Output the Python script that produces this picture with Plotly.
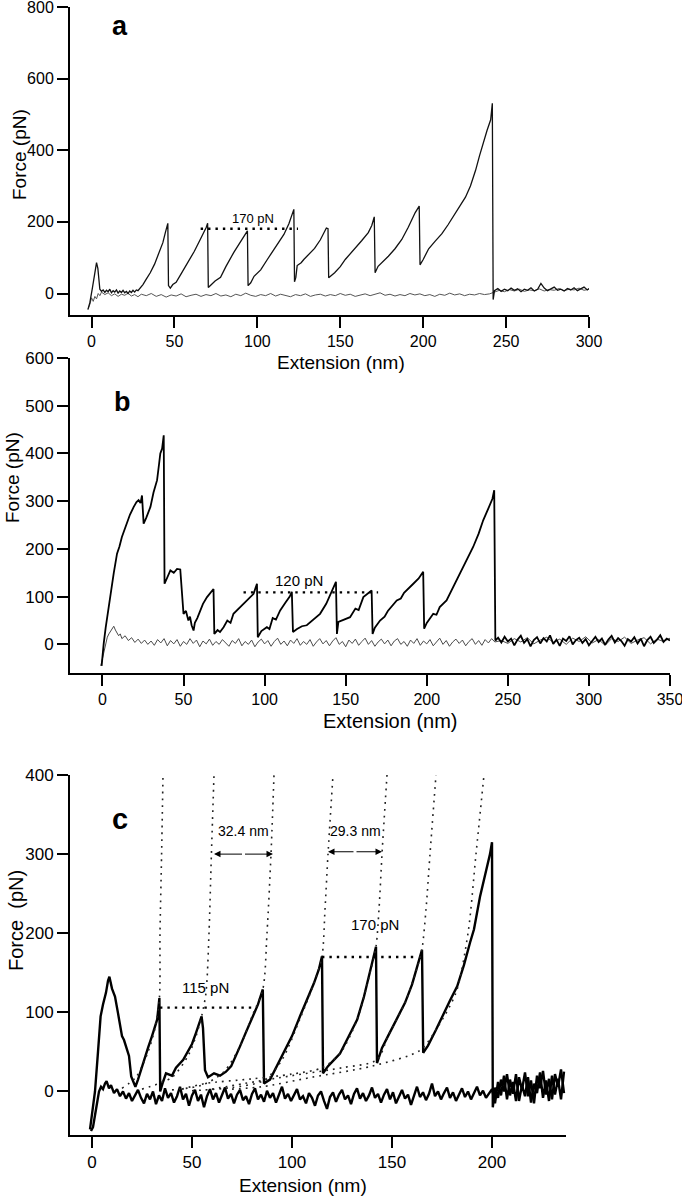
import plotly.graph_objects as go

FONT = "Liberation Sans, Arial, Helvetica, sans-serif"

# ---------------- Panel a ----------------
a_retract = [(-2.2,-45),(-1,-25),(0.5,15),(1.5,45),(2.3,70),(3,86),(3.8,70),(4.5,35),(5,12),(6,6),(7,10),(8,3),(9,9),(10,5),(11,12),(12,2),(13,8),(14,4),(15,10),(16,1),(17,7),(18,3),(19,9),(20,2),(21,6),(22,0),(23,7),(24,3),(25,9),(26,4),(27,10),(28,8),(30,18),(31,25),(33,40),(35.4,58),(38,82),(40,104),(41,115),(43,142),(44.5,170),(45.3,185),(46,196),(46.4,22),(47.5,15),(49,25),(51,31),(54,55),(57,78),(59.6,96),(62,118),(65.7,152),(68,172),(69.2,185),(70,196),(70.4,17),(72,24),(74.5,35),(77.8,45),(81,75),(85.8,115),(89,140),(92,160),(93.3,170),(94,175),(94.4,22),(96,30),(98,48),(102,66),(106,95),(109,115),(112,135),(116,165),(119,195),(121,220),(122,235),(122.4,33),(123.2,45),(124,78),(126.4,86),(128,95),(130.5,107),(134.5,126),(138,150),(140.5,172),(141.6,183),(142.6,181),(143,44),(146.6,58),(150,75),(153,95),(156.7,114),(160,130),(163,148),(166.9,170),(169,190),(170.5,214),(171,58),(172.8,76),(176,90),(179,104),(183,125),(187.1,151),(191,185),(195.2,226),(197.6,244),(198.1,80),(200,95),(203.3,125),(207,145),(211.3,167),(215,192),(219.4,223),(222.5,245),(225.5,269),(228.5,300),(231.6,344),(234,385),(236.6,429),(238.5,455),(240.7,485),(241.7,531),(242.2,-17),(243,8),(245,14),(247,6),(249,12),(251,8),(253,15),(255,9),(257,13),(259,5),(261,12),(263,9),(265,16),(267,7),(269,12),(271,28),(273,15),(275,8),(277,13),(279,18),(281,9),(283,12),(285,7),(287,14),(289,10),(291,16),(293,8),(295,13),(297,18),(299,10),(300,14)]
a_approach = [(-2,-42),(-1,-30),(0,-12),(1,-22),(2,-8),(3,-15),(4,0),(5,-6),(6,4),(8,-3),(10,2),(12,-6),(14,-1),(16,-8),(18,-2),(20,-5),(22,1),(24,-7),(26,-3),(28,-9),(30,-2),(33,-6),(36,0),(39,-8),(42,-3),(45,-10),(48,-4),(51,-7),(54,-1),(57,-9),(60,-5),(63,-2),(66,-8),(69,-3),(72,-6),(75,0),(78,-7),(81,-4),(84,-9),(87,-2),(90,-6),(93,1),(96,-5),(99,-8),(102,-3),(105,-6),(108,0),(111,-7),(114,-2),(117,-5),(120,-9),(123,-3),(126,-6),(129,-1),(132,-8),(135,-4),(138,-2),(141,-7),(144,-3),(147,-6),(150,0),(153,-5),(156,-2),(159,-8),(162,-4),(165,-1),(168,-6),(171,-3),(174,2),(177,-5),(180,-2),(183,-7),(186,-3),(189,-6),(192,0),(195,-4),(198,-1),(201,-6),(204,-3),(207,-8),(210,-2),(213,-5),(216,1),(219,-4),(222,-1),(225,-6),(228,-2),(231,-4),(234,0),(237,-3),(240,-1),(243,4),(246,9),(249,5),(252,11),(255,7),(258,12),(261,6),(264,10),(267,8),(270,13),(273,7),(276,11),(279,9),(282,14),(285,8),(288,12),(291,10),(294,15),(297,9),(300,12)]
a_level_x = [65.8, 124.5]
a_level_f = [181, 181]
a_level_text = "170 pN"

# ---------------- Panel b ----------------
b_retract = [(-0.5,-45),(0.3,-10),(0.8,2),(2,35),(3,60),(4.9,99),(7,150),(9,190),(10.5,205),(12,225),(13.5,240),(15.2,253),(17,272),(19.3,288),(21,298),(22.3,302),(23.5,296),(24.4,312),(25,280),(25.4,253),(27,265),(29.6,288),(31.5,318),(33.7,344),(35,380),(35.7,400),(36.8,410),(37.8,438),(38.3,127),(40,140),(41.9,155),(44,150),(46,158),(48,157),(49,110),(50,64),(51.5,70),(53,50),(54,58),(55,40),(56.2,29),(57,45),(58.5,55),(60.3,71),(62,85),(64.5,99),(66.5,108),(68.5,116),(69,22),(71,30),(72.5,26),(74.7,36),(77,50),(79,45),(80.8,64),(84,75),(87,85),(90,95),(93.2,106),(95.3,127),(95.8,15),(98,28),(101.4,36),(103,32),(105,55),(107,52),(109.6,71),(113,88),(115.5,100),(116.8,110),(117.5,26),(120,32),(123,38),(126,40),(130,52),(134.2,64),(138,85),(141,108),(142.4,120),(144,131),(144.6,22),(145.5,47),(149,52),(152.7,57),(156,75),(158,72),(160.9,99),(164,108),(166,113),(166.6,22),(168,35),(171.2,50),(174,58),(176,70),(181.5,92),(184,96),(186,108),(191.7,127),(195,138),(197.8,152),(198.4,33),(200,45),(204,64),(206,62),(208,78),(212.2,92),(216,118),(220.4,148),(224,172),(228.6,204),(232,232),(234.8,260),(238,285),(240.5,305),(241.6,323),(242.3,8),(244,14),(246,4),(248,16),(250,6),(252,12),(254,-2),(256,10),(258,18),(260,3),(262,11),(264,-4),(266,9),(268,15),(270,2),(272,13),(274,6),(276,19),(278,1),(280,10),(282,-3),(284,12),(286,7),(288,17),(290,0),(292,9),(294,14),(296,3),(298,11),(300,-2),(302,8),(304,16),(306,5),(308,12),(310,-1),(312,10),(314,18),(316,4),(318,13),(320,7),(322,-3),(324,11),(326,6),(328,15),(330,2),(332,12),(334,-4),(336,9),(338,16),(340,3),(342,10),(344,19),(346,5),(348,12),(350,8)]
b_approach = [(-1,-45),(0,-30),(1,-8),(2,5),(3,15),(4,22),(5,28),(6,33),(7,38),(8,30),(9,25),(10,18),(11,22),(12,12),(14,18),(16,8),(18,14),(20,4),(22,11),(24,2),(26,9),(28,0),(30,7),(32,-2),(34,10),(36,3),(38,12),(40,-3),(42,8),(44,1),(46,10),(48,-4),(50,6),(52,0),(54,12),(56,2),(58,9),(60,-5),(62,7),(64,1),(66,11),(68,-2),(70,6),(72,0),(74,10),(76,3),(78,-4),(80,8),(82,2),(84,12),(86,-3),(88,6),(90,0),(92,9),(94,-5),(96,5),(98,11),(100,1),(102,8),(104,-4),(106,6),(108,13),(110,0),(112,7),(114,-3),(116,9),(118,2),(120,12),(122,-2),(124,6),(126,0),(128,10),(130,-4),(132,5),(134,12),(136,1),(138,8),(140,-3),(142,7),(144,14),(146,0),(148,6),(150,-5),(152,9),(154,2),(156,11),(158,-2),(160,6),(162,13),(164,0),(166,8),(168,-4),(170,5),(172,11),(174,1),(176,9),(178,-3),(180,7),(182,12),(184,0),(186,6),(188,-4),(190,9),(192,2),(194,12),(196,-2),(198,7),(200,1),(202,10),(204,-3),(206,6),(208,13),(210,0),(212,8),(214,-4),(216,5),(218,11),(220,2),(222,9),(224,-3),(226,6),(228,12),(230,0),(232,8),(234,-2),(236,10),(238,3),(240,12),(242,5),(246,8),(250,2),(254,12),(258,5),(262,14),(266,1),(270,9),(274,15),(278,4),(282,11),(286,0),(290,13),(294,6),(298,16),(302,3),(306,10),(310,-2),(314,12),(318,6),(322,15),(326,2),(330,9),(334,14),(338,1),(342,11),(346,6),(350,13)]
b_level_x = [87, 170]
b_level_f = [109, 109]
b_level_text = "120 pN"

# ---------------- Panel c ----------------
c_retract = [(-1,-48),(0,-30),(1.5,0),(3,50),(4.3,95),(5.5,110),(7,125),(8,140),(8.7,145),(10,130),(11.5,120),(13,99),(15,70),(16,65),(17.4,53),(18.5,45),(19.6,19),(21.7,6),(23,15),(26,40),(28,55),(30,70),(32.6,91),(33.7,118),(34.1,0),(35.5,12),(37,23),(40,20),(42,30),(45.6,40),(48,52),(50,60),(52,74),(53.5,85),(54.8,95),(55.5,80),(56.5,27),(58,18),(61,23),(64,20),(67,25),(69.6,32),(72,45),(74,57),(77,75),(80.4,95),(83,110),(85.4,129),(86,10),(89,15),(92,30),(95.6,48),(100,70),(104,95),(108,118),(111,137),(113.5,155),(115,171),(115.5,23),(118,32),(121,40),(124,48),(128,68),(132.6,91),(136,120),(139,150),(141,170),(142,183),(142.5,36),(145,55),(148,70),(152,90),(156.5,112),(160,135),(163,162),(165,179),(165.6,49),(168,58),(172,78),(176,100),(179,115),(182.6,133),(186,160),(189,188),(191,205),(194,246),(197.3,280),(199,300),(200,315),(200.4,-20),(201.5,5),(203,-8),(204.5,15),(206,0),(207.5,22),(209,-5),(210.5,12),(212,-12),(213.5,18),(215,2),(216.5,24),(218,-6),(219.5,14),(221,-15),(222.5,20),(224,4),(225.5,26),(227,-4),(228.5,16),(230,-10),(231.5,22),(233,6),(234.5,28),(236,-2)]
c_approach = [(-0.5,-50),(0.5,-45),(1.5,-30),(2.5,-12),(3.5,0),(4.5,6),(5.5,3),(6.5,10),(7.3,13),(8.5,4),(9.5,8),(11,-2),(12.5,3),(14,-6),(15.5,0),(17,-9),(18.5,-2),(20,-12),(21.5,-4),(23,2),(24.5,-8),(26,-15),(27.5,-3),(29,-10),(30.5,0),(32,-16),(33.5,-5),(35,-12),(36.5,4),(38,-8),(39.5,-2),(41,-14),(42.5,-6),(44,6),(45.5,-10),(47,-3),(48.5,-18),(50,-5),(51.5,2),(53,-12),(54.5,-4),(56,-20),(57.5,-6),(59,3),(60.5,-10),(62,-2),(63.5,-14),(65,-5),(66.5,5),(68,-9),(69.5,-3),(71,-15),(72.5,-4),(74,2),(75.5,-11),(77,-6),(78.5,-16),(80,-3),(81.5,4),(83,-10),(84.5,-4),(86,-13),(87.5,1),(89,-8),(90.5,-2),(92,-14),(93.5,-5),(95,6),(96.5,-9),(98,-3),(99.5,-12),(101,-4),(102.5,3),(104,-10),(105.5,-6),(107,-15),(108.5,-2),(110,-8),(111.5,-18),(113,-5),(114.5,0),(116,-12),(117.5,-22),(119,-7),(120.5,-1),(122,-13),(123.5,-4),(125,2),(126.5,-10),(128,-5),(129.5,-16),(131,-3),(132.5,4),(134,-9),(135.5,-2),(137,-12),(138.5,-5),(140,5),(141.5,-8),(143,-3),(144.5,-14),(146,-4),(147.5,3),(149,-10),(150.5,-1),(152,-15),(153.5,-6),(155,2),(156.5,-9),(158,-4),(159.5,-17),(161,-5),(162.5,6),(164,-7),(165.5,-1),(167,-11),(168.5,-3),(170,10),(171.5,-6),(173,0),(174.5,-10),(176,-2),(177.5,5),(179,-8),(180.5,-1),(182,-12),(183.5,-3),(185,4),(186.5,-7),(188,0),(189.5,-10),(191,-2),(192.5,6),(194,-5),(195.5,1),(197,-8),(198.5,-2),(200,3),(201.5,-15),(203,12),(204.5,-5),(206,20),(207.5,-10),(209,15),(210.5,-3),(212,22),(213.5,-12),(215,8),(216.5,-6),(218,18),(219.5,-14),(221,10),(222.5,-2),(224,24),(225.5,-8),(227,14),(228.5,-12),(230,20),(231.5,-4),(233,16),(234.5,-10),(236,25)]
# worm-like-chain fits (dotted)
c_wlc = [
    [(15,4),(22,18),(28,50),(31.5,80),(33.7,118),(34,200),(34.8,300),(35.5,400)],
    [(25,3),(40,18),(48,45),(52,70),(54.8,95),(57,125),(58.5,200),(59.7,300),(61,400)],
    [(40,2),(55,8),(66,25),(74,57),(80,95),(85.4,129),(87.5,200),(89.5,300),(91,400)],
    [(50,1),(70,5),(86,14),(95,40),(104,92),(111,137),(115,171),(116.5,230),(118,300),(120.5,400)],
    [(45,3),(56.5,10),(80,16),(100,22),(115,30),(124,48),(132.6,91),(139,150),(142,183),(143.5,230),(145,300),(147.5,400)],
    [(60,3),(76,10),(100,20),(125,30),(142.5,40),(148,70),(156.5,112),(163,160),(165,180),(167,230),(169,300),(172,400)],
    [(70,3),(85,6),(110,18),(140,32),(164,52),(172,78),(182,125),(188,200),(192,300),(196,400)],
]
c_level_x = [[34, 80.5], [115, 163]]
c_level_f = [[106, 106], [170, 170]]
c_level_text = ["115 pN", "170 pN"]
c_level_text_pos = [(56.5, 132), (141.5, 211)]
c_spacing_x = [[61, 90.5], [118, 145]]
c_spacing_f = [300, 303]
c_spacing_text = ["32.4 nm", "29.3 nm"]
c_spacing_text_pos = [(75.5, 329), (131.5, 329)]

def xs(p): return [q[0] for q in p]
def ys(p): return [q[1] for q in p]

fig = go.Figure()
# panel a
fig.add_trace(go.Scatter(x=xs(a_approach), y=ys(a_approach), mode="lines",
                         line=dict(color="#555555", width=1), xaxis="x", yaxis="y"))
fig.add_trace(go.Scatter(x=xs(a_retract), y=ys(a_retract), mode="lines",
                         line=dict(color="#111111", width=1.3), xaxis="x", yaxis="y"))
fig.add_trace(go.Scatter(x=a_level_x, y=a_level_f, mode="lines",
                         line=dict(color="black", width=2.4, dash="2.4px,5px"), xaxis="x", yaxis="y"))
# panel b
fig.add_trace(go.Scatter(x=xs(b_approach), y=ys(b_approach), mode="lines",
                         line=dict(color="#4a4a4a", width=1), xaxis="x2", yaxis="y2"))
fig.add_trace(go.Scatter(x=xs(b_retract), y=ys(b_retract), mode="lines",
                         line=dict(color="black", width=1.8), xaxis="x2", yaxis="y2"))
fig.add_trace(go.Scatter(x=b_level_x, y=b_level_f, mode="lines",
                         line=dict(color="black", width=2.4, dash="2.4px,5px"), xaxis="x2", yaxis="y2"))
# panel c
fig.add_trace(go.Scatter(x=xs(c_approach), y=ys(c_approach), mode="lines",
                         line=dict(color="black", width=2.4), xaxis="x3", yaxis="y3"))
fig.add_trace(go.Scatter(x=xs(c_retract), y=ys(c_retract), mode="lines",
                         line=dict(color="black", width=2.4), xaxis="x3", yaxis="y3"))
for curve in c_wlc:
    fig.add_trace(go.Scatter(x=xs(curve), y=ys(curve), mode="lines",
                             line=dict(color="#222222", width=1.6, dash="1.8px,5px", shape="spline", smoothing=0.8),
                             xaxis="x3", yaxis="y3"))
for lx, lf in zip(c_level_x, c_level_f):
    fig.add_trace(go.Scatter(x=lx, y=lf, mode="lines",
                             line=dict(color="black", width=2.4, dash="2.4px,5px"), xaxis="x3", yaxis="y3"))

ax_common = dict(showline=True, linecolor="black", linewidth=2, ticks="outside", ticklen=11,
                 tickwidth=2, tickcolor="black", showgrid=False, zeroline=False, automargin=False,
                 ticklabeloverflow="allow",
                 tickfont=dict(family=FONT, size=16, color="black"))
W, H = 682, 1199
fig.update_layout(
    width=W, height=H, autosize=False, showlegend=False,
    margin=dict(l=0, r=0, t=0, b=0, pad=0),
    paper_bgcolor="white", plot_bgcolor="white",
    font=dict(family=FONT, color="black"),
    xaxis=dict(ax_common, domain=[70/W, 589/W], anchor="y", range=[-13, 300], tickvals=[0, 50, 100, 150, 200, 250, 300]),
    yaxis=dict(ax_common, domain=[1-315/H, 1-7/H], anchor="x", range=[-60, 800], tickvals=[0, 200, 400, 600, 800]),
    xaxis2=dict(ax_common, domain=[70/W, 670/W], anchor="y2", range=[-20, 350], tickvals=[0, 50, 100, 150, 200, 250, 300, 350]),
    yaxis2=dict(ax_common, domain=[1-673/H, 1-358/H], anchor="x2", range=[-60, 600], tickvals=[0, 100, 200, 300, 400, 500, 600],
                tickfont=dict(family=FONT, size=17, color="black")),
    xaxis3=dict(ax_common, domain=[70/W, 566/W], anchor="y3", range=[-11, 237], tickvals=[0, 50, 100, 150, 200],
                tickfont=dict(family=FONT, size=17, color="black")),
    yaxis3=dict(ax_common, domain=[1-1135/H, 1-775/H], anchor="x3", range=[-55, 400], tickvals=[0, 100, 200, 300, 400],
                tickfont=dict(family=FONT, size=17, color="black")),
)

ann = []
def paper_text(text, px, py, size, angle=0):
    ann.append(dict(text=text, x=px/W, y=1-py/H, xref="paper", yref="paper", showarrow=False,
                    textangle=angle, xanchor="center", yanchor="middle",
                    font=dict(family=FONT, size=size, color="black")))
# axis titles
paper_text("Force (pN)", 20, 155, 19, -90)
paper_text("Extension (nm)", 341, 363, 19)
paper_text("Force (pN)", 13, 478, 19, -90)
paper_text("Extension (nm)", 390, 721, 20)
paper_text("Force  (pN)", 16, 921, 20, -90)
paper_text("Extension (nm)", 303, 1185, 19)

def data_text(text, x, y, axis, size, bold=False):
    ann.append(dict(text=f"<b>{text}</b>" if bold else text, x=x, y=y, xref=f"x{axis}", yref=f"y{axis}",
                    showarrow=False, xanchor="center", yanchor="middle",
                    font=dict(family=FONT, size=size, color="black")))
data_text("a", 17, 747, "", 27, True)
data_text("b", 12.3, 507, "2", 27, True)
data_text("c", 14, 345, "3", 29, True)
data_text(a_level_text, 97.6, 210, "", 13)
data_text(b_level_text, 121, 134, "2", 15)
for t, (tx, ty) in zip(c_level_text, c_level_text_pos):
    data_text(t, tx, ty, "3", 15)
for t, (tx, ty) in zip(c_spacing_text, c_spacing_text_pos):
    data_text(t, tx, ty, "3", 14)
for (x0, x1), f in zip(c_spacing_x, c_spacing_f):
    mid = (x0 + x1) / 2
    for end in (x0, x1):
        ann.append(dict(x=end, y=f, ax=mid, ay=f, xref="x3", yref="y3", axref="x3", ayref="y3",
                        text="", showarrow=True, arrowhead=2, arrowsize=1.3, arrowwidth=1,
                        arrowcolor="black", standoff=0, startstandoff=0))
fig.update_layout(annotations=ann)

fig.write_html("out.html", config={"displayModeBar": False},
               post_script="document.body.style.margin='0px';document.body.style.overflow='hidden';")
